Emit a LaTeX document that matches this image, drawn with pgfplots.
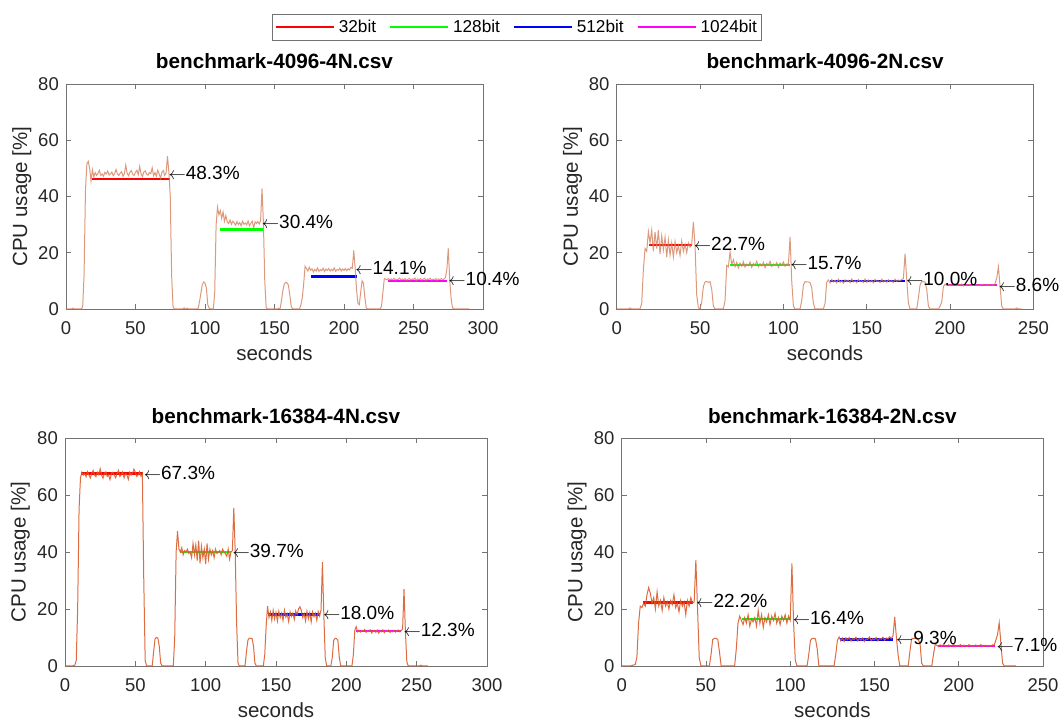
\documentclass[border=0pt]{standalone}
\usepackage{pgfplots}
\pgfplotsset{compat=1.18}
\usepackage{fontspec}
\setmainfont{Liberation Sans}
\definecolor{trA}{RGB}{212,128,92}
\definecolor{trB}{RGB}{217,92,44}
\definecolor{axc}{RGB}{115,115,115}
\definecolor{txc}{RGB}{38,38,38}
\definecolor{mR}{RGB}{255,0,0}
\definecolor{mG}{RGB}{0,255,0}
\definecolor{mB}{RGB}{0,0,255}
\definecolor{mM}{RGB}{255,0,255}
\newcommand{\la}{\ensuremath{\leftarrow}}
\tikzset{
 ann/.style={anchor=west, inner sep=0pt, font=\fontsize{19}{22}\selectfont},
 mean/.style={line width=2.5pt},
}
\pgfplotsset{
 myax/.style={
  scale only axis, anchor=south west,
  xmin=0, ymin=0, ymax=80,
  ytick={0,20,40,60,80},
  tick pos=both, tick align=inside,
  major tick length=5pt,
  axis line style={axc, line width=0.8pt},
  every tick/.style={axc, line width=0.8pt},
  tick label style={font=\fontsize{18.5}{22}\selectfont, text=txc},
  /pgf/number format/assume math mode=true,
  xticklabel style={anchor=base, inner sep=0pt, yshift=-26pt},
  yticklabel style={anchor=east, inner sep=0pt, xshift=-7pt},
  title style={font=\bfseries\fontsize{20.7}{24}\selectfont, at={(0.5,1)}, anchor=base, yshift=9pt, inner sep=0pt},
  xlabel style={font=\fontsize{20.5}{24}\selectfont, text=txc, at={(0.5,0)}, anchor=base, yshift=-52pt, inner sep=0pt},
  ylabel style={font=\fontsize{20.5}{24}\selectfont, text=txc, at={(axis description cs:-0.106,0.5)}, anchor=center, inner sep=0pt},
  xlabel={seconds}, ylabel={CPU usage [\%]},
  clip=false, scaled ticks=false,
 },
}
\begin{document}
\begin{tikzpicture}
\useasboundingbox (0,0) rectangle (1064pt,722pt);
% ---------------- TL
\begin{axis}[myax, at={(66pt,413pt)}, width=417pt, height=225pt, xmax=300, xtick={0,50,...,300},
  title={benchmark-4096-4N.csv},
  legend style={at={(1.0815,1.2533)}, anchor=center, legend columns=4, draw=axc, line width=0.8pt,
    font=\fontsize{17.2}{20}\selectfont, inner xsep=3pt, inner ysep=4.5pt,
    nodes={inner sep=1.5pt},
    /tikz/every odd column/.append style={column sep=2.5pt},
    /tikz/every even column/.append style={column sep=12pt}},
  legend image code/.code={\draw[#1, line width=1.4pt] (0pt,0pt) -- (58pt,0pt);}]
\addplot[mean, mR] coordinates {(18.5,46.3) (75,46.3)}; \addlegendentry{32bit}
\addplot[mean, mG] coordinates {(110.8,28.2) (142,28.2)}; \addlegendentry{128bit}
\addplot[mean, mB] coordinates {(176.3,11.5) (209,11.5)}; \addlegendentry{512bit}
\addplot[mean, mM] coordinates {(232,10.0) (274,10.0)}; \addlegendentry{1024bit}
\addplot[trA, line width=1pt, opacity=0.8, forget plot] coordinates {
(0,0)(4,0)(5,0.3)(6,0)(11,0)(12,0.8)(13,12)(14,42)(15,51.5)(16,52.5)(17,50)(18,45.5)(19,49.5)(20,47)(21,48.5)(22,47.5)(23,48.2)(24,49.3)(25,47.5)(26,48)(27,47.2)(28,48.6)(29,48)(30,49)(31,47.6)(32,48.1)(33,48.7)(34,47.4)(35,48.2)(36,49.6)(37,48)(38,47.5)(39,48.3)(40,48.8)(41,47.2)(42,48.1)(43,51.2)(44,48.2)(45,47.4)(46,48.6)(47,49.2)(48,47.9)(49,47.5)(50,48.6)(51,49.3)(52,47.8)(53,50.7)(54,48)(55,47.1)(56,48.7)(57,49.1)(58,48)(59,47.6)(60,48.5)(61,48.1)(62,50.2)(63,47.4)(64,48.5)(65,47.2)(66,49.3)(67,48)(68,46.5)(69,48.6)(70,49.2)(71,47.5)(72,48.4)(73,54.3)(74,48.7)(75,40)(76,12)(77,0.8)(78,0)(84,0)(85,0.4)(86,0)(87,0.3)(88,0)(95,0)(96,2.5)(97,5.5)(98,8.5)(99,9.6)(100,9.2)(101,7.5)(102,1.5)(103,0.3)(104,0)(106,0)(107,6)(108,30)(109,36.2)(110,33.5)(111,35)(112,32.2)(113,34.5)(114,31.2)(115,33.2)(116,31)(117,30.4)(118,31.6)(119,30.1)(120,31.2)(121,30.6)(122,29.8)(123,31.1)(124,30)(125,30.7)(126,29.6)(127,31.2)(128,30.1)(129,30.6)(130,29.9)(131,31.3)(132,29.6)(133,30.5)(134,31.2)(135,28.8)(136,31)(137,30.4)(138,31.1)(139,30.2)(140,31.4)(141,42.8)(142,31)(143,10)(144,0.5)(145,0)(152,0)(153,0.3)(154,0)(155,3)(156,6.5)(157,8.8)(158,9.5)(159,9.3)(160,8.5)(161,5)(162,1)(163,0)(168,0)(169,1.5)(170,4)(171,9)(172,15.2)(173,14.4)(174,13.5)(175,14.8)(176,13.8)(177,14.3)(178,13.2)(179,14.1)(180,13.5)(181,14.6)(182,13.4)(183,14)(184,13.6)(185,14.5)(186,13.3)(187,14.2)(188,13.7)(189,14.4)(190,13.5)(191,14.1)(192,13.6)(193,14.6)(194,13.4)(195,14)(196,13.8)(197,14.5)(198,13.5)(199,14.2)(200,13.7)(201,14.4)(202,13.6)(203,14.3)(204,13.9)(205,14.8)(206,14.5)(207,20.8)(208,14.8)(209,7)(210,2)(211,1.5)(212,6)(213,10)(214,9.2)(215,4)(216,0.5)(217,0)(226,0)(227,1)(228,6)(229,10.8)(230,10.6)(231,10.4)(232,10.8)(233,10.3)(234,10.7)(235,10.4)(236,10.9)(237,10.3)(238,10.6)(239,10.5)(240,11)(241,10.3)(242,10.7)(243,10.4)(244,10.8)(245,10.2)(246,10.6)(247,10.9)(248,10.3)(249,10.7)(250,10.4)(251,11)(252,10.1)(253,10.7)(254,10.4)(255,10.8)(256,10.3)(257,10.6)(258,10.9)(259,10.2)(260,10.7)(261,10.5)(262,10.9)(263,10.3)(264,10.6)(265,10.4)(266,10.8)(267,10.2)(268,10.7)(269,10.5)(270,10.8)(271,10.4)(272,10.7)(273,11.2)(274,14)(275,21.5)(276,11)(277,4)(278,0.5)(279,0)(290,0)};
\node[ann] at (axis cs:73.6,48.5) {\la48.3\%};
\node[ann] at (axis cs:140.8,30.8) {\la30.4\%};
\node[ann] at (axis cs:208,14.5) {\la14.1\%};
\node[ann] at (axis cs:275,10.7) {\la10.4\%};
\end{axis}
% ---------------- TR
\begin{axis}[myax, at={(616.7pt,413pt)}, width=416.7pt, height=225pt, xmax=250, xtick={0,50,...,250},
  title={benchmark-4096-2N.csv}]
\addplot[mean, mR] coordinates {(19.4,22.8) (45,22.8)};
\addplot[mean, mG] coordinates {(68,15.7) (104,15.7)};
\addplot[mean, mB] coordinates {(128,9.95) (173,9.95)};
\addplot[mean, mM] coordinates {(198.2,8.5) (228,8.5)};
\addplot[trA, line width=1pt, opacity=0.8] coordinates {
(0,0)(7,0)(8,0.4)(9,0)(14,0)(15,2)(16,14)(17,21.5)(18,20.5)(19,27.5)(20,23.5)(21,28)(22,20.5)(23,27.3)(24,21.5)(25,28)(26,19.5)(27,26)(28,21)(29,25.5)(30,18.5)(31,24.5)(32,19.2)(33,23.5)(34,18.5)(35,24)(36,20)(37,22.5)(38,19)(39,24.2)(40,20.5)(41,23)(42,20)(43,23.5)(44,22)(45,23)(46,31)(47,22.5)(48,5)(49,0.5)(50,0)(51,2.5)(52,8)(53,9.6)(54,9.8)(55,9.5)(56,9.7)(57,7)(58,1)(59,0)(64,0)(65,3)(66,15.5)(67,15)(68,20.3)(69,15.8)(70,17.5)(71,15)(72,16.6)(73,14.6)(74,16.3)(75,15.2)(76,16.8)(77,14.9)(78,16)(79,15.4)(80,16.7)(81,14.8)(82,16.2)(83,15.5)(84,17)(85,15)(86,16.1)(87,15.3)(88,16.6)(89,14.7)(90,16.2)(91,15.6)(92,16.9)(93,15.1)(94,16)(95,15.4)(96,16.5)(97,14.8)(98,16.3)(99,15.5)(100,16.7)(101,15.2)(102,16)(103,15.8)(104,25.6)(105,10)(106,1)(107,0)(110,0)(111,3)(112,8.5)(113,9.7)(115,9.6)(116,9.4)(117,7.5)(118,2)(119,0)(124,0)(125,2)(126,9.5)(127,10.3)(128,9.3)(129,10.5)(130,9.6)(131,10.2)(132,9.3)(133,10.6)(134,9.5)(135,10.1)(136,9.2)(137,10.4)(138,9.7)(139,10.2)(140,9.4)(141,10.7)(142,9.6)(143,10)(144,9.3)(145,10.5)(146,9.7)(147,10.1)(148,9.4)(149,10.6)(150,9.5)(151,10.3)(152,9.6)(153,10.2)(154,9.3)(155,10.5)(156,9.8)(157,10)(158,9.4)(159,10.6)(160,9.6)(161,10.2)(162,9.5)(163,10.4)(164,9.7)(165,10.1)(166,9.4)(167,10.6)(168,9.8)(169,10.3)(170,10)(171,10.5)(172,10.8)(173,19.7)(174,10.5)(175,2)(176,0)(180,0)(181,4)(182,8.5)(183,9.8)(185,9.6)(186,7)(187,1)(188,0)(193,0)(194,1)(195,2.5)(196,8)(197,8.8)(198,8.4)(199,8.7)(200,8.3)(201,8.6)(202,8.4)(203,8.8)(204,8.3)(205,8.6)(206,8.5)(207,8.9)(208,8.2)(209,8.6)(210,8.4)(211,8.7)(212,8.3)(213,8.6)(214,8.5)(215,8.8)(216,8.3)(217,8.6)(218,8.4)(219,8.7)(220,8.5)(221,8.6)(222,8.3)(223,8.7)(224,8.5)(225,8.6)(226,8.4)(227,9)(228,11)(229,15)(230,8)(231,1)(232,0)(239,0)(240,0.4)(241,0)(243,0)};
\node[ann] at (axis cs:46.2,23.3) {\la22.7\%};
\node[ann] at (axis cs:104,16.5) {\la15.7\%};
\node[ann] at (axis cs:173.5,10.6) {\la10.0\%};
\node[ann] at (axis cs:229,8.7) {\la8.6\%};
\end{axis}
% ---------------- BL
\begin{axis}[myax, at={(65pt,56pt)}, width=422pt, height=228pt, xmax=300, xtick={0,50,...,300},
  title={benchmark-16384-4N.csv}]
\addplot[mean, mR] coordinates {(11.2,67.5) (55.2,67.5)};
\addplot[mean, mG] coordinates {(81.7,40) (117.9,40)};
\addplot[mean, mB] coordinates {(144,18) (181.4,18)};
\addplot[mean, mM] coordinates {(207,12.3) (239,12.3)};
\addplot[trB, line width=1pt, opacity=0.9] coordinates {
(0,0)(5,0)(7,0.3)(8,2)(9,20)(10,55)(11,66)(12,68)(13,67)(14,67.6)(15,66.4)(16,68.2)(17,67)(18,66)(19,67.6)(20,68.6)(21,67)(22,66.4)(23,68)(24,67.1)(25,69.2)(26,67)(27,65.9)(28,67.5)(29,68.1)(30,66.5)(31,67)(32,65.4)(33,67.6)(34,68)(35,67)(36,66)(37,67.5)(38,68.6)(39,66.5)(40,67.1)(41,68.1)(42,66)(43,67.5)(44,67)(45,65.5)(46,68)(47,67)(48,67.6)(49,69.1)(50,68)(51,66.5)(52,67)(53,68.2)(54,66.6)(55,67.5)(56,30)(57,2)(58,0)(62,0)(63,5)(64,9.5)(65,10)(66,9.8)(67,7)(68,1)(69,0)(77,0)(78,10)(79,40)(80,47.3)(81,41)(82,40)(83,41.5)(84,39)(85,40.5)(86,40)(87,41)(88,39.5)(89,40)(90,38)(91,43)(92,39)(93,42.5)(94,37)(95,44)(96,36)(97,42)(98,38)(99,41)(100,35.8)(101,43)(102,37.5)(103,41)(104,39)(105,40.5)(106,38)(107,41)(108,39.5)(109,40)(110,40.5)(111,39)(112,41)(113,40)(114,39.5)(115,38.5)(116,41)(117,37.5)(118,40)(119,40.5)(120,55.5)(121,40)(122,15)(123,1)(124,0)(128,0)(129,5)(130,9)(131,9.8)(133,9.6)(134,7)(135,1)(136,0)(141,0)(142,4)(143,14)(144,21)(145,17)(146,19)(147,16)(148,19.5)(149,16.5)(150,18.8)(151,15.8)(152,19.2)(153,17)(154,18.5)(155,16)(156,19.6)(157,17.2)(158,18.3)(159,15.6)(160,19)(161,17.4)(162,18.6)(163,16.3)(164,19.3)(165,18)(166,20)(167,20.8)(168,19.5)(169,17)(170,18.4)(171,15.8)(172,19.2)(173,16.6)(174,18.7)(175,15.5)(176,19)(177,17.3)(178,18.5)(179,16)(180,19.1)(181,17.5)(182,19.6)(183,36.4)(184,18)(185,3)(186,0)(189,0)(190,3)(191,9)(192,9.7)(193,9.6)(194,9)(195,3)(196,0)(204,0)(205,4)(206,12.5)(207,13.8)(208,12)(209,12.6)(210,11.9)(211,12.5)(212,12.2)(213,12.8)(214,11.8)(215,12.4)(216,12.1)(217,12.7)(218,11.6)(219,12.3)(220,12.5)(221,11.8)(222,12.6)(223,11.5)(224,12.3)(225,12)(226,12.7)(227,11.7)(228,12.4)(229,12.1)(230,12.6)(231,11.8)(232,12.3)(233,12)(234,12.5)(235,11.9)(236,12.3)(237,12.6)(238,12)(239,12.4)(240,13)(241,27)(242,12)(243,1.5)(244,0)(252,0)(253,0.3)(254,0)(258,0)};
\node[ann] at (axis cs:55.9,67.9) {\la67.3\%};
\node[ann] at (axis cs:119,40.3) {\la39.7\%};
\node[ann] at (axis cs:183.3,18.7) {\la18.0\%};
\node[ann] at (axis cs:240.5,12.7) {\la12.3\%};
\end{axis}
% ---------------- BR
\begin{axis}[myax, at={(621.7pt,56pt)}, width=421.3pt, height=228pt, xmax=250, xtick={0,50,...,250},
  title={benchmark-16384-2N.csv}]
\addplot[mean, mR] coordinates {(12.8,22.3) (42.5,22.3)};
\addplot[mean, mG] coordinates {(71.2,16.5) (99.8,16.5)};
\addplot[mean, mB] coordinates {(129.5,9.35) (161,9.35)};
\addplot[mean, mM] coordinates {(187.8,7.0) (221.4,7.0)};
\addplot[trB, line width=1pt, opacity=0.9] coordinates {
(0,0)(5,0)(8,0.5)(9,3)(10,15)(11,21)(12,20.5)(13,22)(14,21)(15,25)(16,27.5)(17,25.5)(18,22)(19,24)(20,20)(21,26)(22,21)(23,23)(24,19.5)(25,24)(26,21)(27,22.5)(28,20)(29,23)(30,21.5)(31,25)(32,20.5)(33,22)(34,19)(35,23)(36,21)(37,22.5)(38,18)(39,23)(40,21)(41,24)(42,22)(43,22.5)(44,37.2)(45,20)(46,3)(47,0)(52,0)(53,4)(54,9.3)(55,9.7)(56,9.7)(57,9.3)(58,5)(59,0)(67,0)(68,6)(69,15)(70,17.5)(71,16)(72,14.5)(73,17)(74,15)(75,18)(76,14)(77,16.5)(78,15.5)(79,17)(80,14)(81,19.5)(82,15)(83,18)(84,13.5)(85,17)(86,15.5)(87,18)(88,14.5)(89,17.5)(90,16)(91,18.5)(92,15)(93,17)(94,14.5)(95,17.5)(96,16)(97,18)(98,15)(99,17.5)(100,16)(101,36)(102,15)(103,2)(104,0)(110,0)(111,4)(112,9)(113,9.7)(114,9.7)(115,9.5)(116,6)(117,0)(126,0)(127,4)(128,9)(129,10.2)(130,8.8)(131,9.8)(132,8.6)(133,9.9)(134,9.2)(135,10)(136,8.7)(137,9.6)(138,9.3)(139,10.1)(140,8.8)(141,9.7)(142,9.1)(143,9.9)(144,8.6)(145,9.5)(146,9.3)(147,10.2)(148,8.9)(149,9.6)(150,9.2)(151,10)(152,8.8)(153,9.7)(154,9.4)(155,10.1)(156,9)(157,9.8)(158,9.5)(159,10.3)(160,9.6)(161,10.6)(162,17.2)(163,10)(164,4)(165,0)(170,0)(171,5)(172,9.5)(173,9.7)(175,9.7)(176,9.2)(177,8)(178,1)(179,0)(184,0)(185,4)(186,7.5)(187,7.3)(188,6.8)(189,7.4)(190,6.9)(191,7.6)(192,7)(193,6.7)(194,7.4)(195,6.9)(196,7.3)(197,7.6)(198,6.8)(199,7.2)(200,7)(201,7.5)(202,6.7)(203,7.3)(204,7.1)(205,6.8)(206,7.5)(207,7)(208,7.2)(209,6.8)(210,7.4)(211,7)(212,6.9)(213,7.5)(214,7.1)(215,6.8)(216,7.3)(217,7)(218,7.2)(219,6.9)(220,7.4)(221,7.3)(222,9)(223,11)(224,15.2)(225,8)(226,1)(227,0)(234,0)};
\node[ann] at (axis cs:44.1,22.9) {\la22.2\%};
\node[ann] at (axis cs:101.4,16.8) {\la16.4\%};
\node[ann] at (axis cs:162.7,9.8) {\la9.3\%};
\node[ann] at (axis cs:222.4,7.5) {\la7.1\%};
\end{axis}
\end{tikzpicture}
\end{document}
